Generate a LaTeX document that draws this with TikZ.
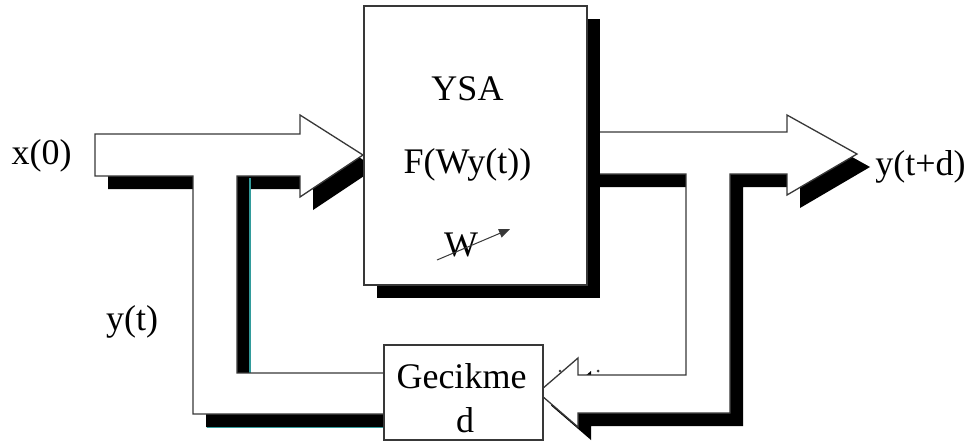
\documentclass[tikz,border=0pt]{standalone}
\usepackage{fontspec}
\setmainfont{Liberation Serif}
\usetikzlibrary{arrows.meta,shadows}
\definecolor{edge}{gray}{0.22}
\definecolor{tealx}{RGB}{50,155,155}
\tikzset{
  outline/.style={draw=edge, line width=1.3pt, fill=white, line join=miter},
  shade/.style={fill=black, draw=none},
  lbl/.style={font=\fontsize{36}{40}\selectfont, inner sep=0pt, anchor=base},
  blockbox/.style={draw=edge, line width=1.3pt, fill=white, inner sep=0pt},
  ysashadow/.style={drop shadow={shadow xshift=13pt, shadow yshift=-13pt, opacity=1, fill=black}},
}
\newcommand\inshape[1]{\path[#1] (95,134) -- (300,134) -- (300,115) -- (363,155) -- (300,197) -- (300,176) -- (237,176) -- (237,373) -- (390,373) -- (390,414) -- (193,414) -- (193,176) -- (95,176) -- cycle;}
\newcommand\outshape[1]{\path[#1] (580,132) -- (787,132) -- (787,115) -- (857,154) -- (787,195) -- (787,174) -- (730,174) -- (730,413) -- (578,413) -- (578,427) -- (538,392.5) -- (578,358) -- (578,375) -- (686,375) -- (686,174) -- (580,174) -- cycle;}
\begin{document}
\begin{tikzpicture}[x=1pt,y=-1pt]
\useasboundingbox[fill=white] (0,0) rectangle (971,445);
% shadows of the wide arrows
\begin{scope}[shift={(13,13)}]
  \inshape{shade}
  \outshape{shade}
\end{scope}
\draw[tealx, line width=1.6pt] (250,178) -- (250,373);
\draw[tealx, line width=1.6pt] (207,427.5) -- (384,427.5);
% wide arrows
\inshape{outline}
\outshape{outline}
% small marks
\fill[edge] (598,371) circle (1.5);
\fill[edge] (560,371) circle (1.3);
% YSA block
\node[blockbox, ysashadow, minimum width=223pt, minimum height=279pt] (ysa) at (475.5,145.5) {};
\node[lbl] (ysat) at (467.5,100) {YSA};
\node[lbl] (fw) at (467.5,173) {F(Wy(t))};
\node[lbl] (wt) at (461,256) {W};
\coordinate (wa) at (437,260);
\coordinate (wb) at (510,229);
\draw[edge, line width=1pt, -{Triangle[length=11pt,width=9pt]}] (wa) -- (wb);
% Gecikme block
\node[blockbox, minimum width=159pt, minimum height=95pt] (gec) at (463.5,392.5) {};
\node[lbl] (gect) at (461.5,388) {Gecikme};
\node[lbl] (gecd) at (465,432) {d};
% labels
\node[lbl] (x0) at (41.5,164) {x(0)};
\node[lbl] (ytd) at (920.5,175) {y(t+d)};
\node[lbl] (yt) at (132,330) {y(t)};
\end{tikzpicture}
\end{document}
